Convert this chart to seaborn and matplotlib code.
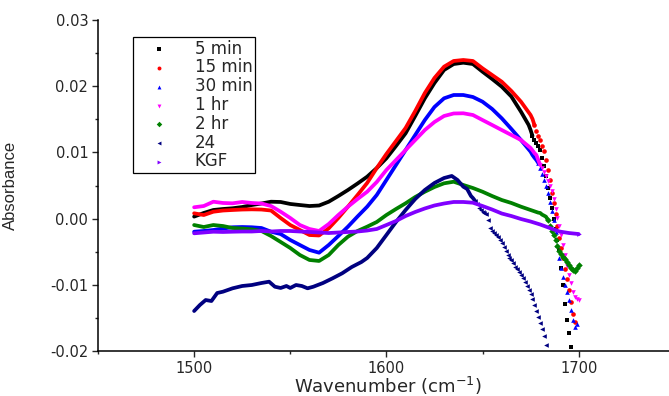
import matplotlib
matplotlib.use("Agg")
import matplotlib.pyplot as plt
from matplotlib.ticker import MultipleLocator, FormatStrFormatter
import seaborn as sns
import pandas as pd

sns.set_style("ticks")
plt.rcParams["font.family"] = ["DejaVu Sans"]
plt.rcParams["axes.unicode_minus"] = False

# wavenumbers (cm-1) where the curves were read, every 5 cm-1 on the smooth part
wn_grid = [1500, 1505, 1510, 1515, 1520, 1525, 1530, 1535, 1540, 1545, 1550, 1555,
           1560, 1565, 1570, 1575, 1580, 1585, 1590, 1595, 1600, 1605, 1610, 1615,
           1620, 1625, 1630, 1635, 1640, 1645, 1650, 1655, 1660, 1665, 1670]

# 5 min
wn_5min = wn_grid + [1674, 1675, 1676, 1677, 1678, 1679, 1680, 1681, 1682, 1683, 1684, 1685,
                     1686, 1687, 1688, 1689, 1690, 1691, 1692, 1693, 1694, 1695, 1696]
abs_5min = [0.0003, 0.00085, 0.0013, 0.00145, 0.00156, 0.00175, 0.00205, 0.00228, 0.00255,
            0.00251, 0.00221, 0.00205, 0.0019, 0.00198, 0.00255, 0.00341, 0.00432, 0.0053,
            0.00633, 0.00764, 0.00911, 0.01097, 0.01289, 0.0155, 0.01817, 0.02048, 0.02245,
            0.02335, 0.02355, 0.02335, 0.02219, 0.02109, 0.01993, 0.01844, 0.01615,
            0.01414, 0.01338, 0.01248, 0.01187, 0.01142, 0.01097, 0.01036, 0.00915, 0.00795,
            0.00644, 0.00462, 0.00311, 0.0016, -0.00006, -0.00157, -0.00323, -0.00474,
            -0.00746, -0.01003, -0.0129, -0.01532, -0.01728, -0.0194]

# 15 min
wn_15min = wn_grid + [1675, 1676, 1677, 1678, 1679, 1680, 1681, 1682, 1683, 1684, 1685, 1686,
                      1687, 1688, 1689, 1690, 1691, 1692, 1693, 1694, 1695, 1696, 1697, 1698]
abs_15min = [0.0008, 0.00054, 0.00104, 0.00122, 0.0013, 0.00137, 0.0014, 0.00137, 0.00122,
             0.00009, -0.00097, -0.00172, -0.00248, -0.00255, -0.00147, 0.00009, 0.0018,
             0.00357, 0.00538, 0.00764, 0.00976, 0.01172, 0.01369, 0.01625, 0.01897, 0.02124,
             0.02295, 0.02381, 0.02396, 0.02381, 0.0227, 0.02169, 0.02068, 0.01928, 0.01766,
             0.01565, 0.01505, 0.01414, 0.01323, 0.01248, 0.01187, 0.01097, 0.01021, 0.00885,
             0.00734, 0.00583, 0.00387, 0.00236, 0.00069, -0.00112, -0.00293, -0.00444,
             -0.00595, -0.00761, -0.00912, -0.01079, -0.0126, -0.01441, -0.01562]

# 30 min
wn_30min = wn_grid + [1675, 1676, 1677, 1678, 1679, 1680, 1681, 1682, 1683, 1684, 1685, 1686,
                      1687, 1688, 1689, 1690, 1691, 1692, 1693, 1694, 1695, 1696, 1697, 1698, 1699]
abs_30min = [-0.00198, -0.00187, -0.00172, -0.0015, -0.00131, -0.00127, -0.00131, -0.00142,
             -0.00198, -0.00233, -0.00323, -0.00399, -0.00474, -0.00515, -0.00399, -0.00263,
             -0.00122, 0.00032, 0.0018, 0.00357, 0.00583, 0.0081, 0.01036, 0.01263, 0.01489,
             0.01686, 0.01817, 0.01867, 0.01867, 0.01837, 0.01766, 0.01656, 0.01515, 0.01354,
             0.01187, 0.01011, 0.0096, 0.0092, 0.00885, 0.0084, 0.00764, 0.00674, 0.00583,
             0.00492, 0.00387, 0.00251, 0.00115, -0.00021, -0.00202, -0.00399, -0.00595,
             -0.00746, -0.00882, -0.01003, -0.01109, -0.0123, -0.01381, -0.01532, -0.01637,
             -0.01592]

# 1 hr
wn_1hr = wn_grid + [1675, 1676, 1677, 1678, 1679, 1680, 1681, 1682, 1683, 1684, 1685, 1686, 1687,
                    1688, 1689, 1690, 1691, 1692, 1693, 1694, 1695, 1696, 1697, 1698, 1699, 1700]
abs_1hr = [0.00171, 0.0019, 0.00255, 0.00236, 0.00231, 0.00251, 0.00236, 0.00228, 0.0019,
           0.00104, 0.00009, -0.00097, -0.00157, -0.00187, -0.00082, 0.00054, 0.0018, 0.00296,
           0.00406, 0.00553, 0.00734, 0.00885, 0.01036, 0.01187, 0.01338, 0.01459, 0.0155,
           0.01588, 0.01591, 0.01565, 0.01489, 0.01414, 0.01338, 0.01263, 0.01187,
           0.01067, 0.0103, 0.0099, 0.00961, 0.00885, 0.0081, 0.00764, 0.00704, 0.00644,
           0.00568, 0.00492, 0.00417, 0.00296, 0.00145, 0.00009, -0.00112, -0.00248, -0.00399,
           -0.0055, -0.00716, -0.00852, -0.00973, -0.01109, -0.01184, -0.01215, -0.0123]

# 2 hr
wn_2hr = wn_grid + [1675, 1676, 1677, 1678, 1679, 1680, 1681, 1682, 1683, 1684, 1685, 1686, 1687,
                    1688, 1689, 1690, 1691, 1692, 1693, 1694, 1695, 1696, 1697, 1698, 1699, 1700]
abs_2hr = [-0.00097, -0.00127, -0.00097, -0.00112, -0.00142, -0.0015, -0.00162, -0.00187,
           -0.00263, -0.00353, -0.00444, -0.0055, -0.00625, -0.0064, -0.0055, -0.00399,
           -0.00273, -0.00187, -0.00122, -0.00051, 0.00054, 0.00145, 0.00231, 0.00326, 0.00406,
           0.00477, 0.00533, 0.00557, 0.00508, 0.00462, 0.00406, 0.00341, 0.00281, 0.00236,
           0.0018, 0.0013, 0.0012, 0.0011, 0.001, 0.0009, 0.00085, 0.0006, 0.00045, 0.00029,
           -0.00021, -0.00112, -0.00187, -0.00248, -0.00323, -0.00414, -0.00489, -0.00535,
           -0.0058, -0.0061, -0.00656, -0.00701, -0.00746, -0.00776, -0.00792, -0.00746,
           -0.00701]

# 24
wn_24 = [1500, 1503, 1506, 1509, 1512, 1515, 1520, 1525, 1530, 1535, 1539, 1542, 1545, 1548,
         1550, 1553, 1556, 1559, 1562, 1567, 1572, 1577, 1582, 1587, 1590, 1595, 1600, 1605,
         1610, 1615, 1620, 1625, 1630, 1634, 1637, 1640, 1642,
         1644, 1645, 1646, 1647, 1648, 1649, 1650, 1651, 1652, 1653, 1654, 1655, 1656, 1657,
         1658, 1659, 1660, 1661, 1662, 1663, 1664, 1665, 1666, 1667, 1668, 1669, 1670, 1671,
         1672, 1673, 1674, 1675, 1676, 1677, 1678, 1679, 1680, 1681, 1682, 1683]
abs_24 = [-0.01396, -0.01305, -0.0123, -0.01245, -0.01124, -0.01104, -0.01053, -0.01018,
          -0.01003, -0.00973, -0.00953, -0.01029, -0.01048, -0.01018, -0.01048, -0.01003,
          -0.01018, -0.01053, -0.01029, -0.00973, -0.00902, -0.00826, -0.00731, -0.00656,
          -0.00595, -0.00444, -0.00248, -0.00051, 0.0013, 0.00296, 0.00432, 0.00538, 0.00613,
          0.00644, 0.00583, 0.00482, 0.00447,
          0.00341, 0.00311, 0.00273, 0.00221, 0.0016, 0.0013, 0.00107, 0.00092, 0.00069,
          -0.00021, -0.00142, -0.00187, -0.00225, -0.00248, -0.00278, -0.00323, -0.00369,
          -0.00429, -0.00489, -0.0055, -0.00588, -0.00625, -0.00678, -0.00724, -0.00761,
          -0.00807, -0.00852, -0.00897, -0.00958, -0.01018, -0.01079, -0.01139, -0.01215,
          -0.01305, -0.01396, -0.01486, -0.01577, -0.01668, -0.01773, -0.01909]

# KGF
wn_kgf = wn_grid + [1675, 1680, 1685, 1690, 1695, 1700]
abs_kgf = [-0.00222, -0.0021, -0.00198, -0.00202, -0.00198, -0.00195, -0.00195, -0.00187,
           -0.00195, -0.00187, -0.00187, -0.00195, -0.00202, -0.0021, -0.00218, -0.0021,
           -0.00202, -0.00195, -0.0018, -0.00157, -0.00097, -0.00036, 0.00039, 0.001, 0.00153,
           0.00198, 0.00228, 0.00251, 0.00251, 0.0024, 0.0019, 0.00137, 0.00077, 0.00039,
           -0.00006, -0.00044, -0.00089, -0.00142, -0.00195, -0.00218, -0.00233]

# label, x, y, colour, marker, last wavenumber drawn as a solid band
series = [
    ("5 min", wn_5min, abs_5min, "#000000", "s", 1676),
    ("15 min", wn_15min, abs_15min, "#FF0000", "o", 1677),
    ("30 min", wn_30min, abs_30min, "#0000FF", "^", 1679),
    ("1 hr", wn_1hr, abs_1hr, "#FF00FF", "v", 1680),
    ("2 hr", wn_2hr, abs_2hr, "#008000", "D", 1684),
    ("24", wn_24, abs_24, "#000080", "<", 1646),
    ("KGF", wn_kgf, abs_kgf, "#8000FF", ">", 1700),
]

fig = plt.figure(figsize=(6.69, 3.96), dpi=100)
ax = fig.add_axes([98 / 669, 45 / 396, 571 / 669, 331 / 396])

for label, x, y, color, marker, cut in series:
    df = pd.DataFrame({"wn": x, "A": y})
    body = df[df["wn"] <= cut]
    tail = df[df["wn"] >= cut]
    sns.lineplot(data=body, x="wn", y="A", color=color, lw=2.7, ax=ax,
                 legend=False, estimator=None, sort=False)
    sns.scatterplot(data=tail, x="wn", y="A", color=color, marker=marker, s=11,
                    linewidth=0, ax=ax, label=label)

ax.set_xlim(1450, 1747)
ax.set_ylim(-0.02, 0.03)
ax.xaxis.set_major_locator(MultipleLocator(100))
ax.xaxis.set_minor_locator(MultipleLocator(50))
ax.yaxis.set_major_locator(MultipleLocator(0.01))
ax.yaxis.set_minor_locator(MultipleLocator(0.005))
ax.yaxis.set_major_formatter(FormatStrFormatter("%.2f"))
ax.tick_params(which="major", direction="out", length=4.5, width=1, labelsize=10.5, pad=2.5)
ax.tick_params(which="minor", direction="out", length=2.5, width=1)
for side in ["top", "right"]:
    ax.spines[side].set_visible(False)
for side in ["left", "bottom"]:
    ax.spines[side].set_linewidth(1.1)
    ax.spines[side].set_color("black")

ax.set_xlabel(r"Wavenumber (cm$^{-1}$)", fontsize=13, va="top")
ax.xaxis.set_label_coords(0.508, -0.072)
ax.set_ylabel("Absorbance", fontsize=12, family=["Liberation Sans", "DejaVu Sans"])
ax.yaxis.set_label_coords(-0.14, 0.5)

leg = ax.legend(loc="upper left", bbox_to_anchor=(133 / 669, 1 - 37 / 396),
                bbox_transform=fig.transFigure, fontsize=12, frameon=True, fancybox=False,
                edgecolor="black", framealpha=1, borderpad=0.15, labelspacing=0.05,
                handlelength=2.8, handletextpad=0.75, borderaxespad=0, markerscale=0.85)
leg.get_frame().set_linewidth(0.9)

fig.savefig("out.png", dpi=100)
